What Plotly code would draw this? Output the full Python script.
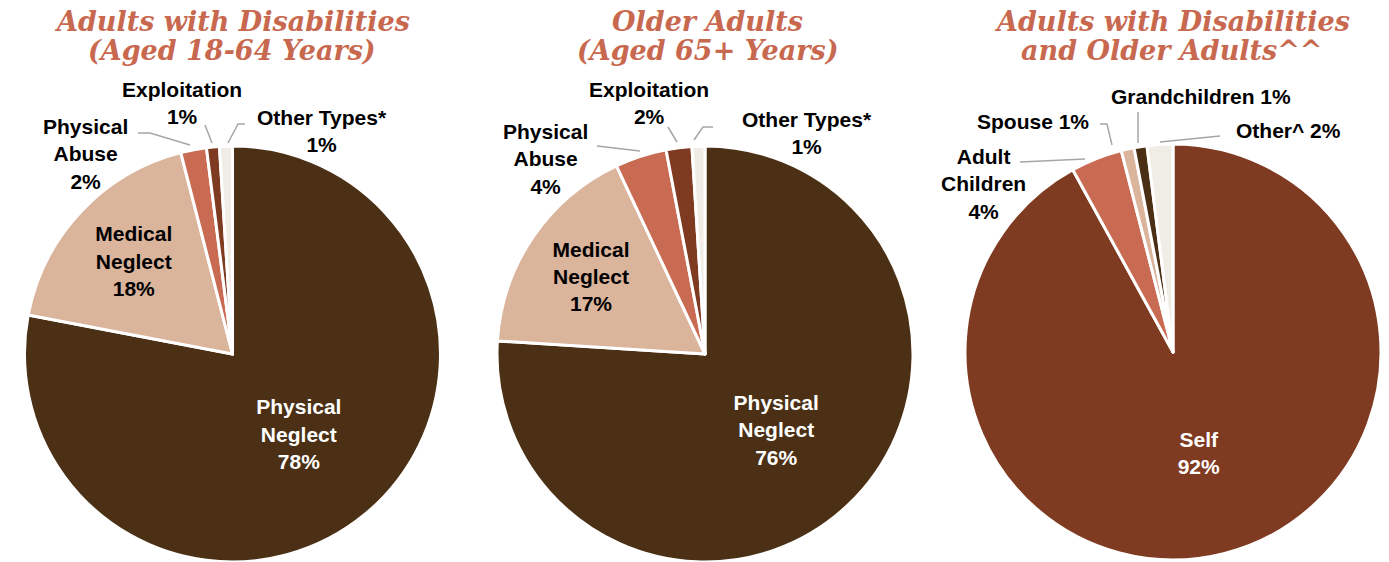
import plotly.graph_objects as go

# --- data ---
type_labels = ["Physical Neglect", "Medical Neglect", "Physical Abuse", "Exploitation", "Other Types*"]
disab_vals = [78, 18, 2, 1, 1]
older_vals = [76, 17, 4, 2, 1]

rel_labels = ["Self", "Adult Children", "Spouse", "Grandchildren", "Other^"]
rel_vals = [92, 4, 1, 1, 2]

titles = [["Adults with Disabilities", "(Aged 18-64 Years)"],
          ["Older Adults", "(Aged 65+ Years)"],
          ["Adults with Disabilities", "and Older Adults^^"]]

type_colors = ["#4b3015", "#dbb49c", "#c96a52", "#7f3a22", "#f0ece6"]
rel_colors = ["#7f3a22", "#c96a52", "#dbb49c", "#4a2f15", "#f0ece6"]

W, H = 1389, 562


def px(x, y):
    # pixel -> paper coords
    return x / W, 1 - y / H


def inside_text(labels, vals, n_inside):
    out = []
    for i, (l, v) in enumerate(zip(labels, vals)):
        if i < n_inside:
            out.append(l.replace(" ", "<br>") + "<br>" + str(v) + "%")
        else:
            out.append("")
    return out


fig = go.Figure()

pies = [
    (type_labels, disab_vals, type_colors, (232.5, 354), 2, ["white", "black"]),
    (type_labels, older_vals, type_colors, (705, 354), 2, ["white", "black"]),
    (rel_labels, rel_vals, rel_colors, (1173, 352), 1, ["white"]),
]

for labels, vals, colors, (cx, cy), n_in, tcols in pies:
    r = 208
    x0, _ = px(cx - r, 0)
    x1, _ = px(cx + r, 0)
    yc = 1 - cy / H
    hh = r / H
    fig.add_trace(go.Pie(
        labels=labels,
        values=vals,
        sort=False,
        direction="clockwise",
        rotation=0,
        marker=dict(colors=colors, line=dict(color="white", width=3)),
        text=inside_text(labels, vals, n_in),
        textinfo="text",
        textposition="inside",
        insidetextorientation="horizontal",
        insidetextfont=dict(family="Liberation Sans", size=21, weight="bold",
                            color=tcols + ["black"] * (5 - len(tcols))),
        domain=dict(x=[x0, x1], y=[max(0, yc - hh), yc + hh]),
        showlegend=False,
        hoverinfo="label+percent",
    ))

# titles (two lines each, placed separately for tighter spacing)
for t, cx in zip(titles, [232, 707, 1172]):
    for line, y in zip(t, [22, 50]):
        x, yy = px(cx, y)
        fig.add_annotation(text=line, x=x, y=yy, xref="paper", yref="paper",
                           showarrow=False, xanchor="center", yanchor="middle",
                           font=dict(family="DejaVu Serif", size=27, weight="bold",
                                     style="italic", color="#c8684f"))

# outside labels
lab_font = dict(family="Liberation Sans", size=21, weight="bold", color="black")
outside = [
    ("Exploitation<br>" + str(disab_vals[3]) + "%", 182, 103),
    ("Physical<br>Abuse<br>" + str(disab_vals[2]) + "%", 85, 154),
    ("Other Types*<br>" + str(disab_vals[4]) + "%", 322, 131),
    ("Exploitation<br>" + str(older_vals[3]) + "%", 649, 103),
    ("Physical<br>Abuse<br>" + str(older_vals[2]) + "%", 545, 159),
    ("Other Types*<br>" + str(older_vals[4]) + "%", 807, 133),
    ("Grandchildren " + str(rel_vals[3]) + "%", 1201, 97),
    ("Spouse " + str(rel_vals[2]) + "%", 1033, 122),
    ("Other^ " + str(rel_vals[4]) + "%", 1288, 130),
    ("Adult<br>Children<br>" + str(rel_vals[1]) + "%", 983, 184),
]
for t, x, y in outside:
    xx, yy = px(x, y)
    fig.add_annotation(text=t, x=xx, y=yy, xref="paper", yref="paper",
                       showarrow=False, xanchor="center", yanchor="middle",
                       font=lab_font)

# leader lines
leaders = [
    [(138, 133), (150, 133), (190, 145)],
    [(205, 125), (212, 143)],
    [(245, 124), (238, 124), (228, 143)],
    [(597, 146), (640, 151)],
    [(668, 127), (677, 142)],
    [(713, 127), (703, 127), (694, 140)],
    [(1100, 124), (1107, 124), (1112, 145)],
    [(1138, 112), (1138, 143)],
    [(1220, 136), (1160, 142)],
    [(1020, 162), (1085, 159)],
]
for pts in leaders:
    path = ""
    for i, (x, y) in enumerate(pts):
        xx, yy = px(x, y)
        path += ("M" if i == 0 else "L") + f"{xx},{yy} "
    fig.add_shape(type="path", path=path, xref="paper", yref="paper",
                  line=dict(color="#a6a6a6", width=1.5))

fig.update_layout(
    width=W, height=H,
    margin=dict(l=0, r=0, t=0, b=0),
    paper_bgcolor="white",
    plot_bgcolor="white",
)

# page body has a default 8px margin, drop it so the figure sits at (0,0)
fig.write_html("out.html", config={"displayModeBar": False},
               post_script="document.body.style.margin='0px';")
